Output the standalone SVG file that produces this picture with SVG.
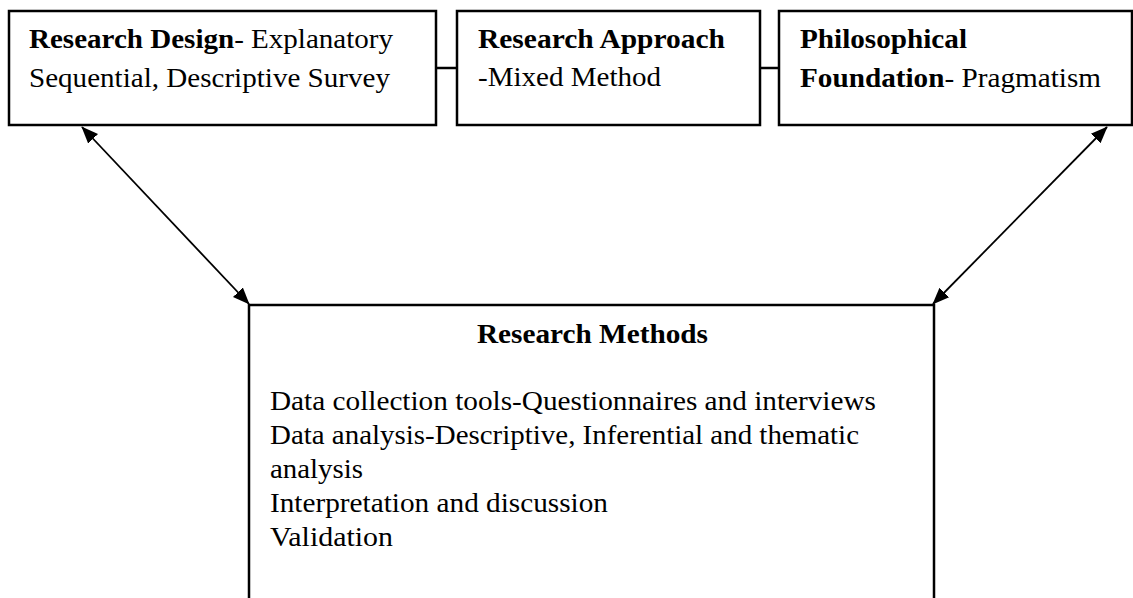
<svg xmlns="http://www.w3.org/2000/svg" width="1133" height="598" viewBox="0 0 1133 598">
  <style>
    .box { fill: #ffffff; stroke: #000000; stroke-width: 2.5; }
    .link { stroke: #000000; stroke-width: 2.5; fill: none; }
    .arrow { stroke: #000000; stroke-width: 1.8; fill: none; marker-start: url(#head); marker-end: url(#head); }
    .txt { font-family: "Liberation Serif", "Times New Roman", serif; font-size: 28px; fill: #000000; }
    .b { font-weight: bold; }
  </style>
  <defs>
    <marker id="head" viewBox="0 0 10 10" refX="9.5" refY="5" markerWidth="17" markerHeight="17" markerUnits="userSpaceOnUse" orient="auto-start-reverse">
      <path d="M0,1 L10,5 L0,9 z" fill="#000000"/>
    </marker>
  </defs>
  <rect width="1133" height="598" fill="#ffffff"/>

  <!-- connectors -->
  <g id="connectors">
    <line class="link" x1="436" y1="68" x2="457" y2="68"/>
    <line class="link" x1="760" y1="68" x2="779" y2="68"/>
    <line class="arrow" x1="82" y1="127" x2="249" y2="304"/>
    <line class="arrow" x1="1107" y1="127" x2="933" y2="304"/>
  </g>

  <g id="research-design">
    <rect class="box" x="9" y="11" width="427" height="114"/>
    <text class="txt" x="29" y="48" textLength="364" lengthAdjust="spacingAndGlyphs"><tspan class="b">Research Design</tspan>- Explanatory</text>
    <text class="txt" x="29" y="87" textLength="361" lengthAdjust="spacingAndGlyphs">Sequential, Descriptive Survey</text>
  </g>

  <g id="research-approach">
    <rect class="box" x="457" y="11" width="303" height="114"/>
    <text class="txt b" x="478" y="48" textLength="247" lengthAdjust="spacingAndGlyphs">Research Approach</text>
    <text class="txt" x="478" y="86" textLength="183" lengthAdjust="spacingAndGlyphs">-Mixed Method</text>
  </g>

  <g id="philosophical-foundation">
    <rect class="box" x="779" y="11" width="353" height="114"/>
    <text class="txt b" x="800" y="48" textLength="167" lengthAdjust="spacingAndGlyphs">Philosophical</text>
    <text class="txt" x="800" y="87" textLength="301" lengthAdjust="spacingAndGlyphs"><tspan class="b">Foundation</tspan>- Pragmatism</text>
  </g>

  <g id="research-methods">
    <rect class="box" x="249" y="305" width="685" height="310"/>
    <text class="txt b" x="477" y="343" textLength="231" lengthAdjust="spacingAndGlyphs">Research Methods</text>
    <text class="txt" x="270" y="410" textLength="606" lengthAdjust="spacingAndGlyphs">Data collection tools-Questionnaires and interviews</text>
    <text class="txt" x="270" y="444" textLength="589" lengthAdjust="spacingAndGlyphs">Data analysis-Descriptive, Inferential and thematic</text>
    <text class="txt" x="270" y="478" textLength="93" lengthAdjust="spacingAndGlyphs">analysis</text>
    <text class="txt" x="270" y="512" textLength="338" lengthAdjust="spacingAndGlyphs">Interpretation and discussion</text>
    <text class="txt" x="270" y="546" textLength="123" lengthAdjust="spacingAndGlyphs">Validation</text>
  </g>
</svg>
